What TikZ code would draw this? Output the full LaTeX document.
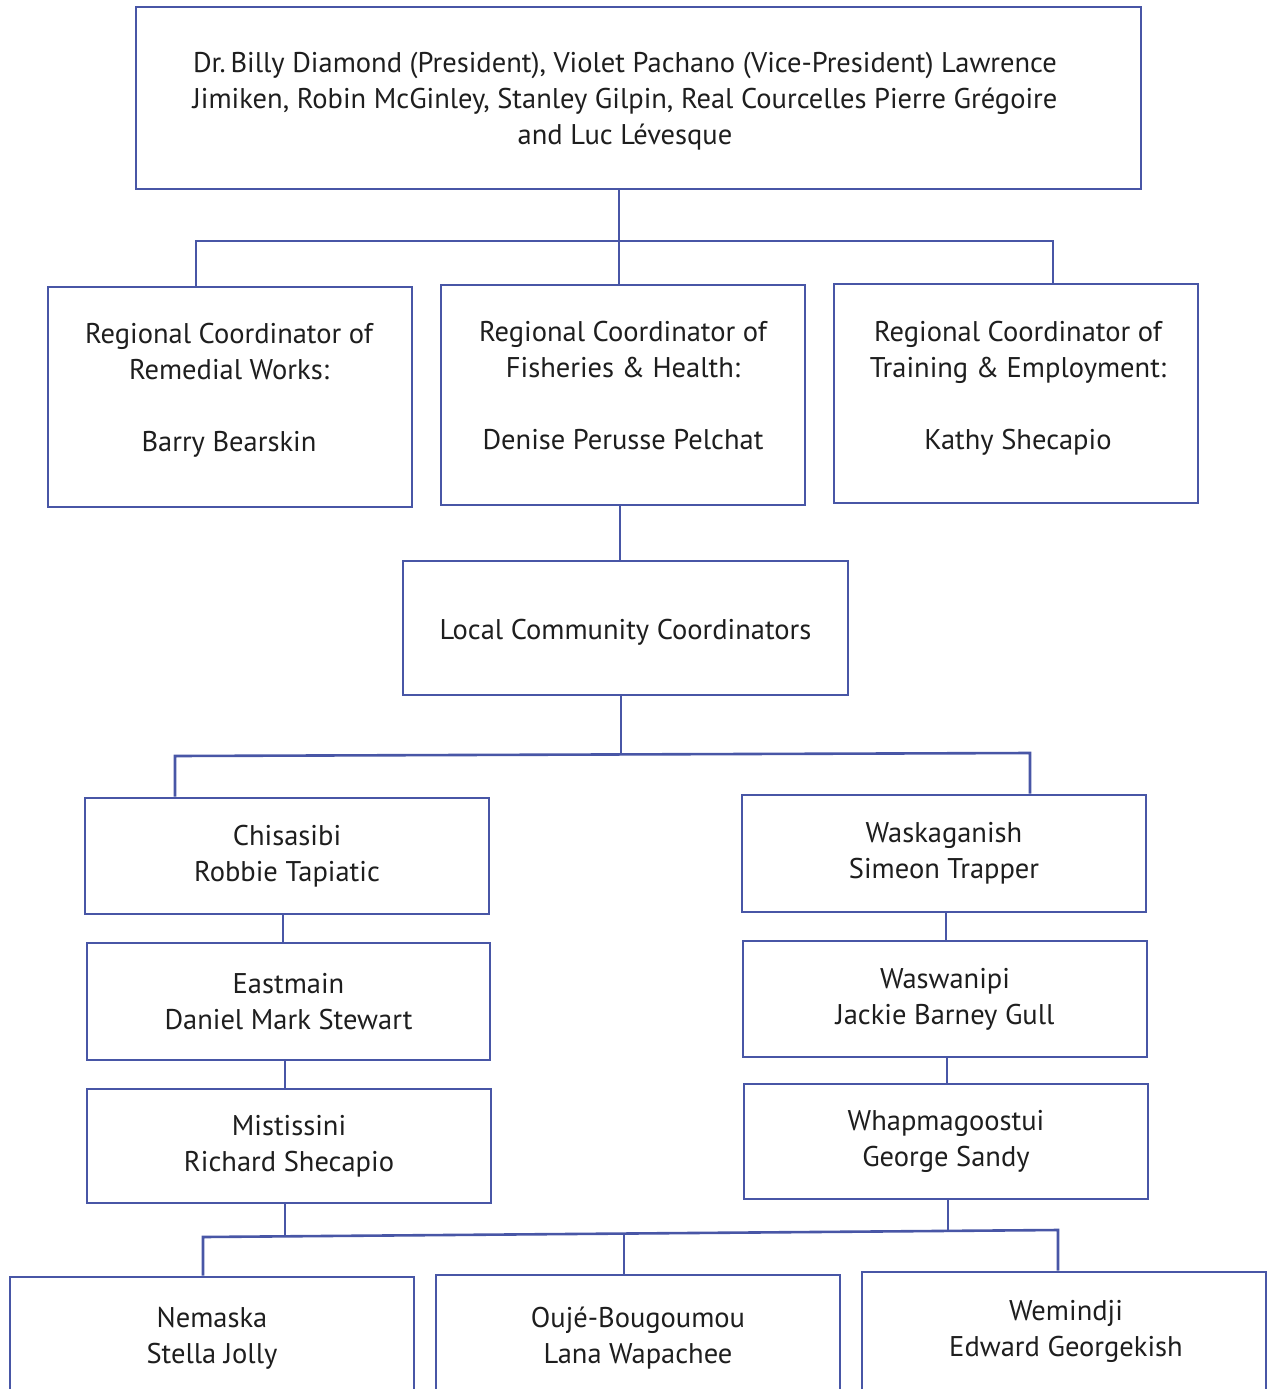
\documentclass[tikz,border=0pt]{standalone}
\usepackage{fontspec}
\setmainfont{PT Sans}
\definecolor{lineblue}{RGB}{72,86,166}
\definecolor{txt}{RGB}{30,30,30}
\begin{document}
\begin{tikzpicture}[x=1pt,y=-1pt,
  box/.style={draw=lineblue,line width=2.6pt,fill=white,align=center,inner sep=0pt,
    font=\fontsize{28.5}{36}\selectfont,text=txt},
  lbl/.style={align=center,inner sep=0pt,font=\fontsize{28.5}{36}\selectfont,text=txt},
  conn/.style={draw=lineblue,line width=2.6pt}]
\useasboundingbox (0,0) rectangle (1266,1389);
% top
\node[box,minimum width=1005pt,minimum height=182pt] (top) at (638.5,98) {};
\node[lbl] (topt) at (625,101) {Dr.\,Billy Diamond (President), Violet Pachano (Vice-President) Lawrence\\Jimiken, Robin McGinley, Stanley Gilpin, Real Courcelles Pierre Grégoire\\and Luc Lévesque};
% row 2
\node[box,minimum width=364pt,minimum height=220pt] (r1) at (230,397) {};
\node[lbl] (r1t) at (229,390) {Regional Coordinator of\\Remedial Works:\\[36pt]Barry Bearskin};
\node[box,minimum width=364pt,minimum height=220pt] (r2) at (623,395) {};
\node[lbl] (r2t) at (623,386) {Regional Coordinator of\\Fisheries \& Health:\\[36pt]Denise Perusse Pelchat};
\node[box,minimum width=364pt,minimum height=219pt] (r3) at (1016,393.5) {};
\node[lbl] (r3t) at (1018,388) {Regional Coordinator of\\Training \& Employment:\\[36pt]Kathy Shecapio};
% local
\node[box,minimum width=445pt,minimum height=134pt] (local) at (625.5,628) {};
\node[lbl] (localt) at (625.5,632) {Local Community Coordinators};
% left column
\node[box,minimum width=404pt,minimum height=116pt] (chis) at (287,856) {Chisasibi\\Robbie Tapiatic};
\node[box,minimum width=403pt,minimum height=117pt] (east) at (288.5,1001.5) {Eastmain\\Daniel Mark Stewart};
\node[box,minimum width=404pt,minimum height=114pt] (mist) at (289,1146) {Mistissini\\Richard Shecapio};
% right column
\node[box,minimum width=404pt,minimum height=117pt] (wask) at (944,853.5) {Waskaganish\\Simeon Trapper};
\node[box,minimum width=404pt,minimum height=116pt] (wasw) at (945,999) {Waswanipi\\Jackie Barney Gull};
\node[box,minimum width=404pt,minimum height=115pt] (whap) at (946,1141.5) {Whapmagoostui\\George Sandy};
% bottom row
\node[box,minimum width=404pt,minimum height=122pt] (nem) at (212,1338) {Nemaska\\Stella Jolly};
\node[box,minimum width=404pt,minimum height=126pt] (ouje) at (638,1338) {Oujé-Bougoumou\\Lana Wapachee};
\node[box,minimum width=404pt,minimum height=132pt] (wem) at (1064,1338) {};
\node[lbl] (wemt) at (1066,1331) {Wemindji\\Edward Georgekish};
% connectors
\coordinate (j1) at (619,241);
\draw[conn] (top.south -| j1) -- (j1);
\draw[conn] (r1.north -| 196,0) -- (196,241) -- (1053,241) -- (r3.north -| 1053,0);
\draw[conn] (j1) -- (r2.north -| j1);
\draw[conn] (r2.south -| 620,0) -- (local.north -| 620,0);
\coordinate (j2) at (621,755);
\draw[conn] (local.south -| j2) -- (j2);
\draw[conn] (chis.north -| 175,0) -- (175,756) -- (1030,753) -- (wask.north -| 1030,0);
\draw[conn] (chis.south -| 283,0) -- (east.north -| 283,0);
\draw[conn] (east.south -| 285,0) -- (mist.north -| 285,0);
\draw[conn] (wask.south -| 946,0) -- (wasw.north -| 946,0);
\draw[conn] (wasw.south -| 947,0) -- (whap.north -| 947,0);
\coordinate (j3) at (285,1236);
\coordinate (j4) at (948,1231);
\draw[conn] (mist.south -| j3) -- (j3);
\draw[conn] (whap.south -| j4) -- (j4);
\draw[conn] (nem.north -| 203,0) -- (203,1237) -- (1058,1230) -- (wem.north -| 1058,0);
\draw[conn] (ouje.north -| 624,0) -- (624,1234);
\end{tikzpicture}
\end{document}
